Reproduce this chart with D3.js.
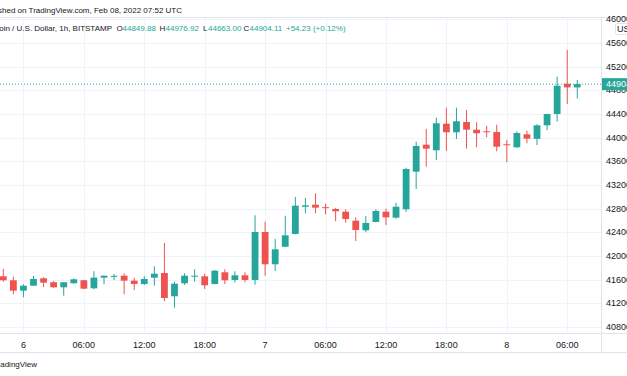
<!DOCTYPE html>
<html><head><meta charset="utf-8">
<script src="https://cdn.jsdelivr.net/npm/d3@7"></script>
<style>html,body{margin:0;padding:0;background:#fff;overflow:hidden}</style>
</head><body><svg id="c" width="627" height="376"></svg>
<script>
// ---- data ----
const firstHour = "2022-02-05T22:00:00Z";
const lastHour  = "2022-02-08T07:00:00Z";
const opens  = [41657,41590,41414,41498,41623,41556,41471,41539,41590,41454,41634,41660,41667,41583,41527,41634,41713,41319,41539,41660,41657,41527,41725,41595,41674,41595,42406,41860,42157,42372,42833,42867,42825,42795,42749,42597,42435,42575,42749,42648,42790,43425,43881,43787,44236,44091,44265,44135,44108,44096,43888,43837,44057,43980,44209,44400,44912,44849.88];
const highs  = [41781,41650,41522,41662,41640,41578,41560,41623,41595,41742,41672,41696,41708,41634,41657,41826,42220,41566,41708,41775,41701,41764,41775,41742,41725,42688,42580,42288,42681,42997,42980,43060,42884,42811,42790,42654,42676,42790,42800,42901,43493,43932,44147,44338,44507,44507,44468,44260,44202,44219,43961,44108,44118,44226,44405,45030,45482,44976.92];
const lows   = [41566,41353,41302,41498,41476,41465,41329,41535,41440,41437,41522,41595,41353,41426,41510,41498,41235,41127,41510,41566,41443,41520,41527,41556,41556,41515,41667,41747,42150,42365,42722,42722,42705,42587,42563,42254,42401,42570,42524,42631,42744,43133,43510,43623,43775,43978,43814,43837,44006,43770,43584,43830,43905,43876,44125,44273,44569,44663.00];
const closes = [41590,41414,41498,41612,41549,41471,41556,41606,41448,41634,41667,41665,41583,41527,41612,41701,41290,41532,41667,41667,41505,41752,41590,41674,41595,42406,41860,42113,42350,42850,42857,42817,42812,42756,42626,42440,42558,42761,42654,42833,43471,43859,43814,44243,44091,44277,44135,44074,44096,43847,43876,44079,43983,44209,44400,44878,44850,44904.11];
const xTickTimes  = ["2022-02-06T00:00:00Z","2022-02-06T06:00:00Z","2022-02-06T12:00:00Z","2022-02-06T18:00:00Z","2022-02-07T00:00:00Z","2022-02-07T06:00:00Z","2022-02-07T12:00:00Z","2022-02-07T18:00:00Z","2022-02-08T00:00:00Z","2022-02-08T06:00:00Z"];
const xTickLabels = ["6","06:00","12:00","18:00","7","06:00","12:00","18:00","8","06:00"];
const yTicks = [40800,41200,41600,42000,42400,42800,43200,43600,44000,44400,44800,45200,45600,46000];
const lastPrice = 44904.11;
const titleLine1 = "Published on TradingView.com, Feb 08, 2022 07:52 UTC";
const symbolText = "Bitcoin / U.S. Dollar, 1h, BITSTAMP";
const ohlcLabels = ["O","H","L","C"];
const ohlcValues = ["44849.88","44976.92","44663.00","44904.11"];
const changeText = "+54.23 (+0.12%)";

// ---- layout ----
const W = 627, H = 376;
const plotTop = 17, plotBottom = 333, axisX = 601, timeAxisBottom = 352;
const GREEN = "#26a69a", RED = "#ef5350", GRID = "#f0f3fa", BORDER = "#e0e3eb", TXT = "#131722";
const FONT = "'Liberation Sans', Arial, sans-serif";
const HF = 8;

const hours = d3.utcHour.range(new Date(firstHour), new Date(new Date(lastHour).getTime() + 1));
const data = hours.map((t, i) => ({t, o: opens[i], h: highs[i], l: lows[i], c: closes[i]}));

const x = d3.scaleUtc().domain([new Date(firstHour), new Date(lastHour)]).range([3.3, 3.3 + 57 * 10.07]);
const y = d3.scaleLinear().domain([40800, 45600]).range([327, 43]);

const svg = d3.select("#c").style("font-family", FONT);
svg.append("rect").attr("width", W).attr("height", H).attr("fill", "#fff");

// grid
const grid = svg.append("g");
grid.selectAll("line.h").data(yTicks).join("line")
  .attr("x1", 0).attr("x2", axisX).attr("y1", d => Math.round(y(d)) + 0.5).attr("y2", d => Math.round(y(d)) + 0.5)
  .attr("stroke", GRID).attr("stroke-width", 1);
grid.selectAll("line.v").data(xTickTimes).join("line")
  .attr("x1", d => Math.round(x(new Date(d))) + 0.5).attr("x2", d => Math.round(x(new Date(d))) + 0.5)
  .attr("y1", plotTop).attr("y2", plotBottom)
  .attr("stroke", GRID).attr("stroke-width", 1);

// candles
const plot = svg.append("g");
const cg = plot.selectAll("g.c").data(data).join("g");
cg.append("line")
  .attr("x1", d => x(d.t)).attr("x2", d => x(d.t))
  .attr("y1", d => y(d.h)).attr("y2", d => y(d.l))
  .attr("stroke", d => d.c >= d.o ? GREEN : RED).attr("stroke-width", 1);
cg.append("rect")
  .attr("x", d => x(d.t) - 3.4).attr("width", 6.8)
  .attr("y", d => y(Math.max(d.o, d.c)))
  .attr("height", d => Math.max(1, Math.abs(y(d.o) - y(d.c))))
  .attr("fill", d => d.c >= d.o ? GREEN : RED);

// last price dotted line
svg.append("line").attr("x1", 0).attr("x2", axisX).attr("y1", y(lastPrice)).attr("y2", y(lastPrice))
  .attr("stroke", GREEN).attr("stroke-width", 1).attr("stroke-dasharray", "1,2");

// borders
svg.append("line").attr("x1", 0).attr("x2", W).attr("y1", plotTop + 0.5).attr("y2", plotTop + 0.5).attr("stroke", BORDER);
svg.append("line").attr("x1", 0).attr("x2", W).attr("y1", plotBottom + 0.5).attr("y2", plotBottom + 0.5).attr("stroke", BORDER);
svg.append("line").attr("x1", 0).attr("x2", W).attr("y1", timeAxisBottom + 0.5).attr("y2", timeAxisBottom + 0.5).attr("stroke", BORDER);
svg.append("line").attr("x1", axisX + 0.5).attr("x2", axisX + 0.5).attr("y1", plotTop).attr("y2", timeAxisBottom).attr("stroke", BORDER);

// y axis labels
svg.append("g").selectAll("text").data(yTicks).join("text")
  .attr("x", 606).attr("y", d => y(d)).attr("dy", "0.35em")
  .attr("font-size", 9).attr("fill", TXT).text(d => d);

// currency box
svg.append("rect").attr("x", 615.5).attr("y", 23.5).attr("width", 20).attr("height", 11)
  .attr("fill", "#fff").attr("stroke", BORDER).attr("rx", 2);
svg.append("text").attr("x", 617).attr("y", 29).attr("dy", "0.35em").attr("font-size", 9).attr("fill", TXT).text("USD");

// last price label
svg.append("rect").attr("x", axisX + 1).attr("y", y(lastPrice) - 6).attr("width", W - axisX).attr("height", 12).attr("fill", GREEN);
svg.append("text").attr("x", 606).attr("y", y(lastPrice)).attr("dy", "0.35em").attr("font-size", 9).attr("fill", "#fff").text(lastPrice.toFixed(2));

// x axis labels
svg.append("g").selectAll("text").data(xTickTimes).join("text")
  .attr("x", d => x(new Date(d))).attr("y", 345).attr("dy", "0.35em").attr("text-anchor", "middle")
  .attr("font-size", 9).attr("fill", TXT).text((d, i) => xTickLabels[i]);

// header
svg.append("text").attr("x", 182).attr("y", 10).attr("dy", "0.35em").attr("text-anchor", "end")
  .attr("font-size", HF).attr("fill", TXT).text(titleLine1);
svg.append("text").attr("x", 112).attr("y", 28).attr("dy", "0.35em").attr("text-anchor", "end")
  .attr("font-size", HF).attr("fill", TXT).text(symbolText);
const lx = [116.5, 159.5, 203, 243.5], vx = [122.5, 165.5, 208, 249.5];
ohlcLabels.forEach((l, i) => {
  svg.append("text").attr("x", lx[i]).attr("y", 28).attr("dy", "0.35em").attr("font-size", HF).attr("fill", TXT).text(l);
  svg.append("text").attr("x", vx[i]).attr("y", 28).attr("dy", "0.35em").attr("font-size", HF).attr("fill", GREEN).text(ohlcValues[i]);
});
svg.append("text").attr("x", 286).attr("y", 28).attr("dy", "0.35em").attr("font-size", HF).attr("fill", GREEN).text(changeText);

// watermark
svg.append("text").attr("x", 37).attr("y", 364).attr("dy", "0.35em").attr("text-anchor", "end")
  .attr("font-size", HF).attr("fill", TXT).text("TradingView");
</script></body></html>
